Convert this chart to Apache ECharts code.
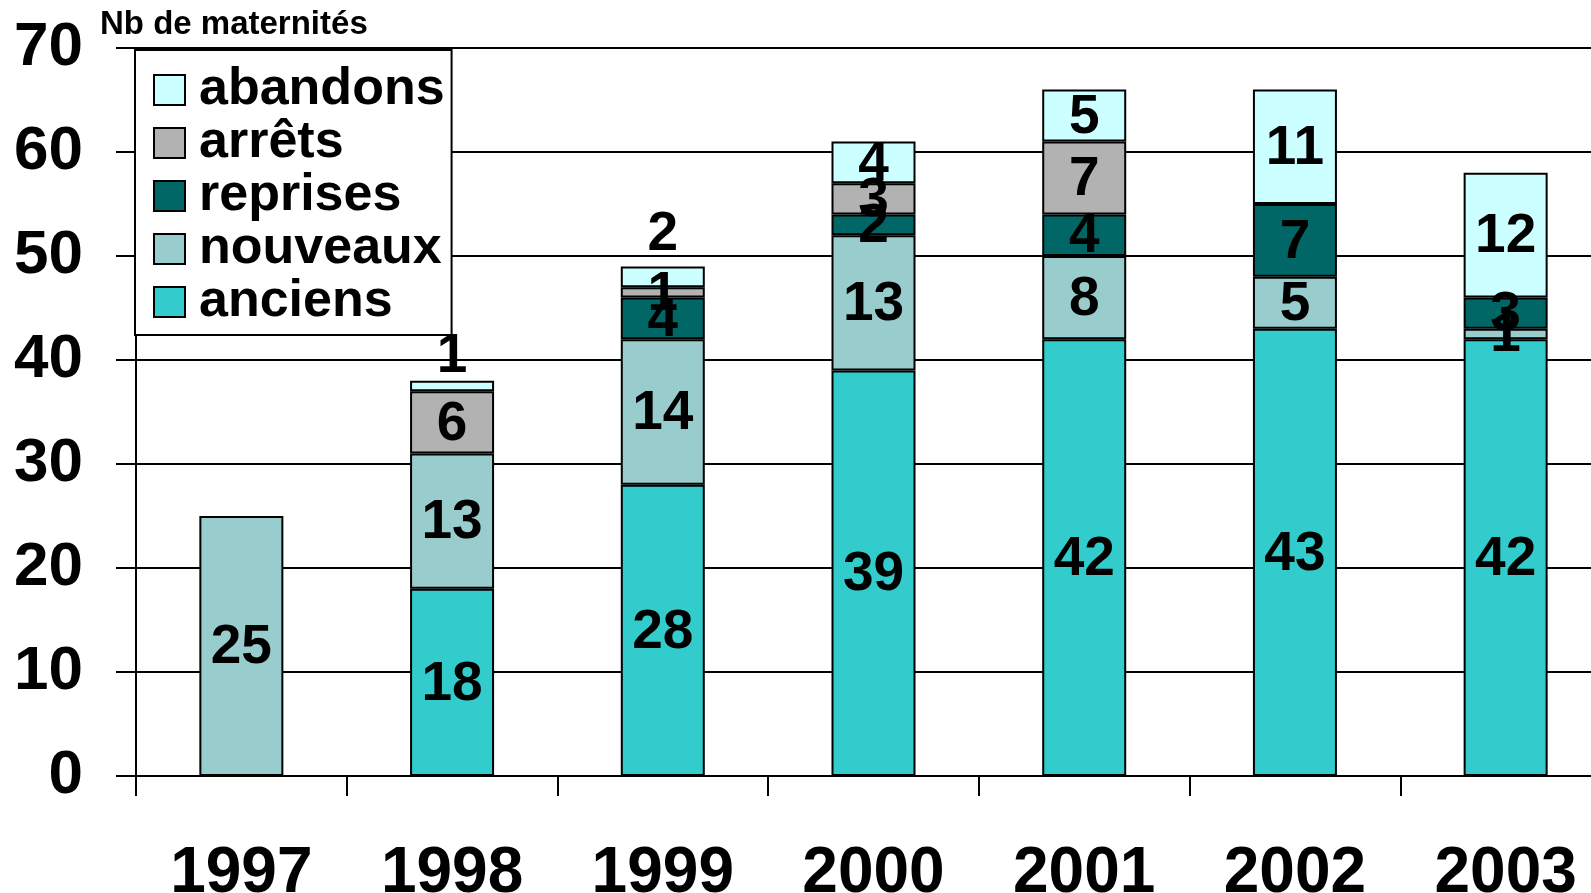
<!DOCTYPE html>
<html>
<head>
<meta charset="utf-8">
<script src="https://cdn.jsdelivr.net/npm/echarts@6/dist/echarts.min.js"></script>
<style>
html,body{margin:0;padding:0;overflow:hidden;background:#fff;width:1591px;height:893px;}
#chart{width:1611px;height:893px;}
</style>
</head>
<body>
<div id="chart"></div>
<script>
const categories = ['1997', '1998', '1999', '2000', '2001', '2002', '2003'];
const anciens  = [null, 18, 28, 39, 42, 43, 42];
const nouveaux = [25, 13, 14, 13, 8, 5, 1];
const reprises = [null, null, 4, 2, 4, 7, 3];
const arrets   = [null, 6, 1, 3, 7, null, null];
const abandons = [null, 1, 2, 4, 5, 11, 12];
const legendOrder = ['abandons', 'arrêts', 'reprises', 'nouveaux', 'anciens'];
const axisTitle = 'Nb de maternités';

const FONT = '"Liberation Sans", Arial, sans-serif';
// labels of these abandons bars are drawn above the bar (index -> distance)
const aboveLabels = {1: -4, 2: 4};

function makeSeries(name, values, color, above) {
  return {
    name: name,
    type: 'bar',
    stack: 'total',
    barWidth: 84,
    itemStyle: {color: color, borderColor: '#000', borderWidth: 2},
    label: {
      show: true, position: 'inside', color: '#000', offset: [0, 2],
      fontFamily: FONT, fontWeight: 'bold', fontSize: 55
    },
    data: values.map((v, i) => {
      if (above && above[i] !== undefined) {
        return {value: v, label: {position: 'top', distance: above[i], offset: [0, 0]}};
      }
      return v;
    })
  };
}

const chart = echarts.init(document.getElementById('chart'));
chart.setOption({
  animation: false,
  backgroundColor: '#fff',
  title: {
    text: axisTitle, left: 100, top: 8, padding: 0,
    textStyle: {fontFamily: FONT, fontWeight: 'bold', fontSize: 33, color: '#000'}
  },
  grid: {left: 136, top: 48, bottom: 117, right: 0, containLabel: false, outerBoundsMode: 'none'},
  legend: {
    orient: 'vertical', left: 135, top: 50,
    data: legendOrder,
    itemWidth: 31, itemHeight: 30, itemGap: 1,
    padding: [14, 7, 7, 18],
    backgroundColor: '#fff', borderColor: '#000', borderWidth: 2,
    icon: 'rect',
    textStyle: {fontFamily: FONT, fontWeight: 'bold', fontSize: 52, color: '#000', lineHeight: 52, padding: [0, 0, 0, 9]}
  },
  xAxis: {
    type: 'category', data: categories,
    axisLine: {lineStyle: {color: '#000', width: 2}},
    axisTick: {show: true, length: 20, lineStyle: {color: '#000', width: 2}},
    axisLabel: {fontFamily: FONT, fontWeight: 'bold', fontSize: 64, color: '#000', margin: 66}
  },
  yAxis: {
    type: 'value', min: 0, max: 70, interval: 10,
    axisLine: {show: true, lineStyle: {color: '#000', width: 2}},
    axisTick: {show: true, length: 20, lineStyle: {color: '#000', width: 2}},
    splitLine: {show: true, lineStyle: {color: '#000', width: 2}},
    axisLabel: {fontFamily: FONT, fontWeight: 'bold', fontSize: 62, color: '#000', margin: 53}
  },
  series: [
    makeSeries('anciens', anciens, '#33CCCC'),
    makeSeries('nouveaux', nouveaux, '#99CCCC'),
    makeSeries('reprises', reprises, '#006666'),
    makeSeries('arrêts', arrets, '#B2B2B2'),
    makeSeries('abandons', abandons, '#CCFFFF', aboveLabels)
  ]
});
</script>
</body>
</html>
